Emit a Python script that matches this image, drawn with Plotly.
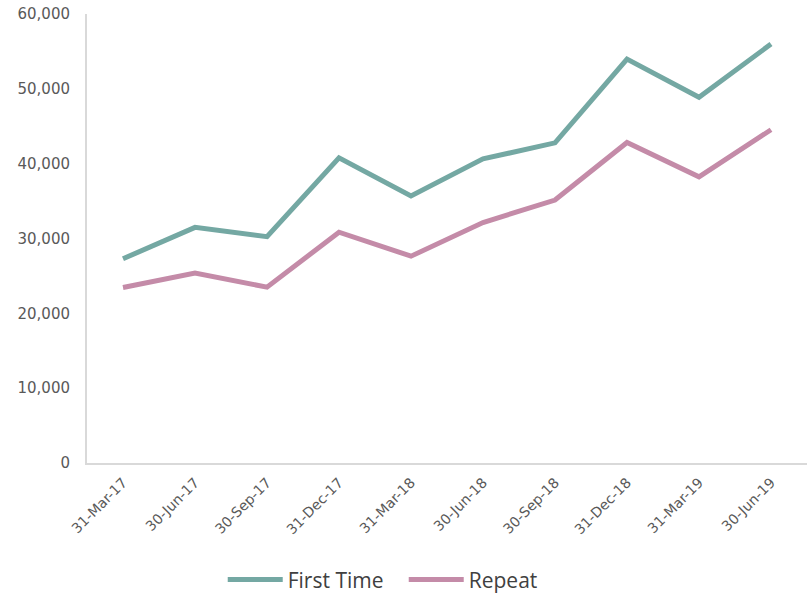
import plotly.graph_objects as go

quarters = ["31-Mar-17", "30-Jun-17", "30-Sep-17", "31-Dec-17", "31-Mar-18",
            "30-Jun-18", "30-Sep-18", "31-Dec-18", "31-Mar-19", "30-Jun-19"]
first_time = [27300, 31500, 30250, 40800, 35700, 40650, 42800, 54000, 48900, 56000]
repeat = [23450, 25400, 23500, 30850, 27650, 32150, 35150, 42850, 38250, 44550]
y_ticks = [0, 10000, 20000, 30000, 40000, 50000, 60000]

fig = go.Figure()
fig.add_trace(go.Scatter(x=quarters, y=first_time, name="First Time", mode="lines",
                         line=dict(color="#74a8a3", width=5)))
fig.add_trace(go.Scatter(x=quarters, y=repeat, name="Repeat", mode="lines",
                         line=dict(color="#c48ba8", width=5)))

fig.update_layout(
    width=807, height=593,
    margin=dict(l=87, r=0, t=14, b=130, autoexpand=False),
    plot_bgcolor="white", paper_bgcolor="white",
    font=dict(family="DejaVu Sans", color="#595959"),
    showlegend=True,
    legend=dict(orientation="h", xref="container", yref="container",
                x=0.276, y=0.022, xanchor="left", yanchor="middle",
                font=dict(family="Open Sans", size=21, color="#404040"),
                itemwidth=55, entrywidth=111, traceorder="normal"),
)
fig.update_xaxes(type="category", range=[-0.5, 9.5], showline=True, linecolor="#d9d9d9",
                 linewidth=2, showgrid=False, tickangle=-45, tickfont=dict(size=14),
                 ticks="outside", ticklen=4, tickcolor="white")
fig.update_yaxes(range=[0, 60020], showline=True, linecolor="#d9d9d9", linewidth=2,
                 showgrid=False, zeroline=False, tickvals=y_ticks,
                 tickformat=",", tickfont=dict(size=15), ticklabelstandoff=12,
                 ticklabeloverflow="allow")

# drop the default 8px body margin so the figure fills the window
fig.write_html("out.html", config={"displayModeBar": False},
               post_script="document.body.style.margin='0';")
